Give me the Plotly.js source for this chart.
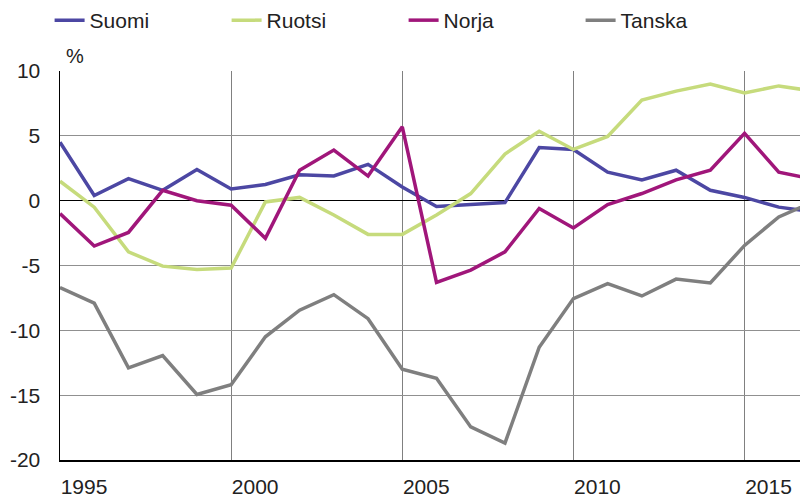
<!DOCTYPE html>
<html>
<head>
<meta charset="utf-8">
<script src="https://cdn.plot.ly/plotly-3.0.1.min.js"></script>
<style>
  html, body { margin: 0; padding: 0; background: #fff; }
  #chart { width: 800px; height: 497px; }
</style>
</head>
<body>
<div id="chart"></div>
<script>
// Data
const years = [1995, 1996, 1997, 1998, 1999, 2000, 2001, 2002, 2003, 2004, 2005, 2006,
               2007, 2008, 2009, 2010, 2011, 2012, 2013, 2014, 2015, 2016, 2017];

const suomi  = [4.5, 0.4, 1.7, 0.8, 2.4, 0.9, 1.25, 2.0, 1.9, 2.8, 1.05, -0.45,
                -0.3, -0.15, 4.1, 3.95, 2.2, 1.6, 2.35, 0.8, 0.25, -0.5, -0.85];
const ruotsi = [1.5, -0.5, -3.95, -5.05, -5.3, -5.2, -0.1, 0.25, -1.1, -2.6, -2.6, -1.1,
                0.55, 3.6, 5.35, 3.95, 4.95, 7.75, 8.45, 9.0, 8.3, 8.85, 8.45];
const norja  = [-1.0, -3.5, -2.45, 0.8, 0.0, -0.35, -2.9, 2.35, 3.9, 1.9, 5.7, -6.3,
                -5.35, -3.95, -0.6, -2.1, -0.3, 0.55, 1.6, 2.35, 5.2, 2.2, 1.65];
const tanska = [-6.7, -7.9, -12.9, -11.95, -14.95, -14.2, -10.5, -8.45, -7.25, -9.1, -13.0, -13.7,
                -17.45, -18.7, -11.3, -7.55, -6.4, -7.35, -6.05, -6.35, -3.45, -1.25, -0.1];

const xTickVals = [1995, 2000, 2005, 2010, 2015];
const xTickText = ['1995', '2000', '2005', '2010', '2015'];
const yTickVals = [-20, -15, -10, -5, 0, 5, 10];
const yTickText = ['-20', '-15', '-10', '-5', '0', '5', '10'];

const font = 'Liberation Sans, Arial, sans-serif';

function line(name, y, color) {
    return {
        x: years,
        y: y,
        name: name,
        type: 'scatter',
        mode: 'lines',
        line: { color: color, width: 3.5 }
    };
}

const data = [
    line('Suomi', suomi, '#4c47a3'),
    line('Ruotsi', ruotsi, '#c6db7c'),
    line('Norja', norja, '#a0167a'),
    line('Tanska', tanska, '#7f7f7f')
];

const layout = {
    width: 800,
    height: 497,
    margin: { l: 60, r: 0, t: 71, b: 37 },
    paper_bgcolor: '#fff',
    plot_bgcolor: '#fff',
    font: { family: font, size: 21, color: '#222' },
    showlegend: true,
    legend: {
        orientation: 'h',
        xref: 'container',
        yref: 'container',
        x: 0.062,
        y: 1.0,
        xanchor: 'left',
        yanchor: 'top',
        entrywidth: 132,
        entrywidthmode: 'pixels',
        font: { family: font, size: 21, color: '#222' },
        bgcolor: 'rgba(0,0,0,0)'
    },
    xaxis: {
        range: [1995, 2016.62],
        tickmode: 'array',
        tickvals: xTickVals,
        ticktext: xTickText,
        ticks: '',
        ticklabelshift: 24,
        ticklabelstandoff: 7,
        showgrid: true,
        gridcolor: '#808080',
        gridwidth: 1,
        showline: true,
        linecolor: '#000',
        linewidth: 1.5,
        zeroline: false,
        fixedrange: true
    },
    yaxis: {
        range: [-20, 10],
        tickmode: 'array',
        tickvals: yTickVals,
        ticktext: yTickText,
        ticks: '',
        ticklabelstandoff: 14,
        showgrid: true,
        gridcolor: '#909090',
        gridwidth: 1,
        showline: true,
        linecolor: '#000',
        linewidth: 1.5,
        zeroline: true,
        zerolinecolor: '#000',
        zerolinewidth: 1.5,
        fixedrange: true
    },
    annotations: [{
        text: '%',
        xref: 'paper',
        yref: 'paper',
        x: 0.005,
        y: 1,
        xanchor: 'left',
        yanchor: 'bottom',
        yshift: 2,
        showarrow: false,
        font: { family: font, size: 20, color: '#222' }
    }]
};

Plotly.newPlot('chart', data, layout, { staticPlot: true, displayModeBar: false });
</script>
</body>
</html>
